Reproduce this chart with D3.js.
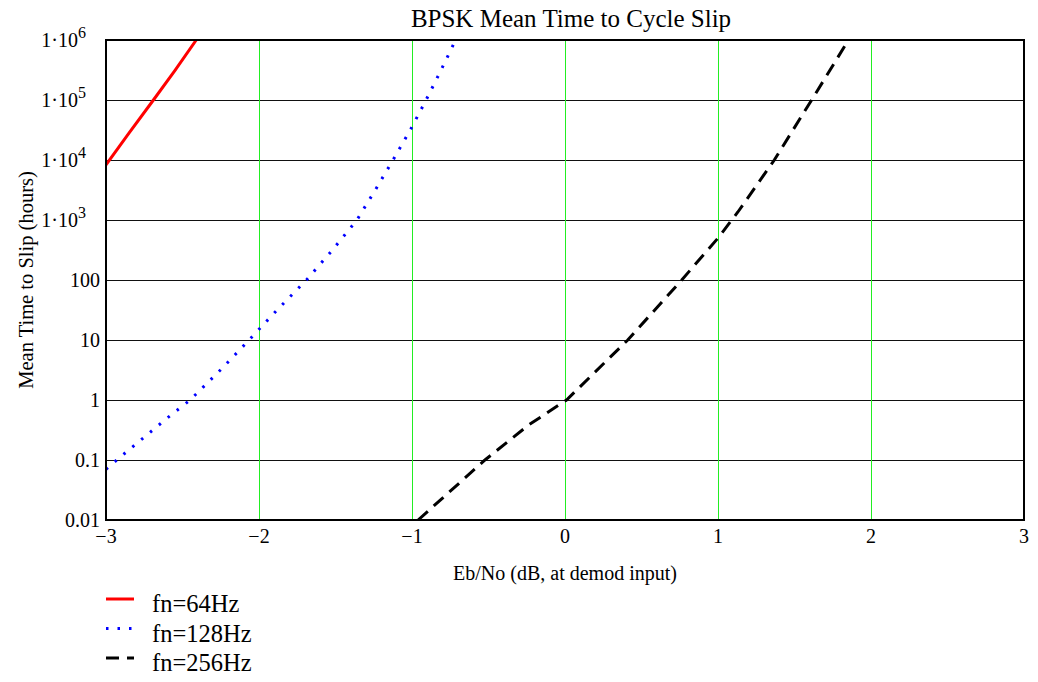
<!DOCTYPE html>
<html>
<head>
<meta charset="utf-8">
<script src="https://cdn.jsdelivr.net/npm/d3@7"></script>
<style>
  body { margin: 0; background: #fff; }
  text { font-family: "Liberation Serif", "Times New Roman", serif; fill: #000; }
</style>
</head>
<body>
<div id="ChartContainer"></div>
<script>
// Eb/No (dB) and mean time to slip (hours) per loop bandwidth
var ebno64 = [-3, -2.85, -2.69, -2.55, -2.41]
var mts64 = [8300, 28000, 100000, 310000, 1000000]

var ebno128 = [-3, -2.93, -2.75, -2.6, -2.45, -2.25, -2.065, -1.88, -1.69, -1.52, -1.36, -1.24, -1.124, -1.01, -0.908, -0.82, -0.715]
var mts128 = [0.07, 0.1, 0.24, 0.5, 1, 3.2, 10, 32, 100, 316, 1000, 3160, 10000, 32000, 100000, 280000, 1000000]

var ebno256 = [-0.96, -0.523, -0.24, 0.01, 0.41, 0.763, 1.0, 1.13, 1.368, 1.612, 1.853]
var mts256 = [0.01, 0.1, 0.38, 1, 10, 100, 500, 1360, 10000, 100000, 1000000]

var xTicks = [-3, -2, -1, 0, 1, 2, 3]
var yTicks = [0.01, 0.1, 1, 10, 100, 1e3, 1e4, 1e5, 1e6]
var seriesNames = ["fn=64Hz", "fn=128Hz", "fn=256Hz"]

var fullWidth = 1038
var fullHeight = 682
var margin = { top: 40, right: 14, bottom: 162, left: 106 }
var width = fullWidth - margin.left - margin.right
var height = fullHeight - margin.top - margin.bottom

var svg = d3.select("#ChartContainer").append("svg")
  .attr("width", fullWidth)
  .attr("height", fullHeight)

var x = d3.scaleLinear().domain([-3, 3]).range([0, width])
var y = d3.scaleLog().domain([0.01, 1e6]).range([height, 0])

var g = svg.append("g")
  .attr("transform", `translate(${margin.left},${margin.top})`)

g.append("clipPath").attr("id", "plotClip")
  .append("rect").attr("width", width).attr("height", height)

// grid: horizontal black, vertical green
g.selectAll(".hgrid")
  .data(yTicks.slice(1, -1))
  .enter().append("line")
  .attr("x1", 0).attr("x2", width)
  .attr("y1", d => Math.round(y(d)) + 0.5).attr("y2", d => Math.round(y(d)) + 0.5)
  .attr("stroke", "#111").attr("stroke-width", 1)
  .attr("shape-rendering", "crispEdges")

g.selectAll(".vgrid")
  .data(xTicks.slice(1, -1))
  .enter().append("line")
  .attr("y1", 0).attr("y2", height)
  .attr("x1", d => Math.round(x(d)) + 0.5).attr("x2", d => Math.round(x(d)) + 0.5)
  .attr("stroke", "#22ee22").attr("stroke-width", 1)
  .attr("shape-rendering", "crispEdges")

var series = [
  { xs: ebno64, ys: mts64, color: "#ff0000", dash: null, w: 3 },
  { xs: ebno128, ys: mts128, color: "#0000ff", dash: "2.5,9", w: 3 },
  { xs: ebno256, ys: mts256, color: "#000000", dash: "13,8", w: 3 }
]

var line = d3.line().x(d => x(d[0])).y(d => y(d[1]))

var plot = g.append("g").attr("clip-path", "url(#plotClip)")
series.forEach(s => {
  plot.append("path")
    .datum(s.xs.map((v, i) => [v, s.ys[i]]))
    .attr("d", line)
    .attr("fill", "none")
    .attr("stroke", s.color)
    .attr("stroke-width", s.w)
    .attr("stroke-dasharray", s.dash)
})

// frame
g.append("rect")
  .attr("width", width).attr("height", height)
  .attr("fill", "none").attr("stroke", "#000").attr("stroke-width", 2)

// x tick labels
g.selectAll(".xtick")
  .data(xTicks)
  .enter().append("text")
  .attr("x", d => x(d))
  .attr("y", height + 23)
  .attr("text-anchor", "middle")
  .style("font-size", "20px")
  .text(d => d < 0 ? "\u2212" + Math.abs(d) : d)

// y tick labels, Mathcad style 1·10^n for large values
yTicks.forEach(d => {
  var t = g.append("text")
    .attr("y", y(d) + 7)
    .attr("text-anchor", "end")
    .style("font-size", "20px")
  if (d >= 1000) {
    var p = Math.round(Math.log10(d))
    t.attr("x", -20)
    t.append("tspan").text("1\u00b710")
    t.append("tspan").attr("dy", -9).style("font-size", "16px").text(p)
  } else {
    t.attr("x", -6).text(d)
  }
})

// title and axis labels
svg.append("text")
  .attr("x", 571)
  .attr("y", 27)
  .attr("text-anchor", "middle")
  .style("font-size", "25px")
  .text("BPSK Mean Time to Cycle Slip")

svg.append("text")
  .attr("x", margin.left + width / 2)
  .attr("y", 580)
  .attr("text-anchor", "middle")
  .style("font-size", "20px")
  .text("Eb/No (dB, at demod input)")

svg.append("text")
  .attr("transform", "rotate(-90)")
  .attr("x", -(margin.top + height / 2))
  .attr("y", 33)
  .attr("text-anchor", "middle")
  .style("font-size", "20.5px")
  .text("Mean Time to Slip (hours)")

// legend
var legend = svg.append("g").attr("transform", "translate(106,599)")
series.forEach((s, i) => {
  var row = legend.append("g").attr("transform", `translate(0,${i * 29.5})`)
  row.append("line")
    .attr("x1", 0).attr("x2", 28)
    .attr("stroke", s.color)
    .attr("stroke-width", s.w)
    .attr("stroke-dasharray", s.dash)
  row.append("text")
    .attr("x", 46).attr("y", 13)
    .style("font-size", "24.5px")
    .text(seriesNames[i])
})
</script>
</body>
</html>
